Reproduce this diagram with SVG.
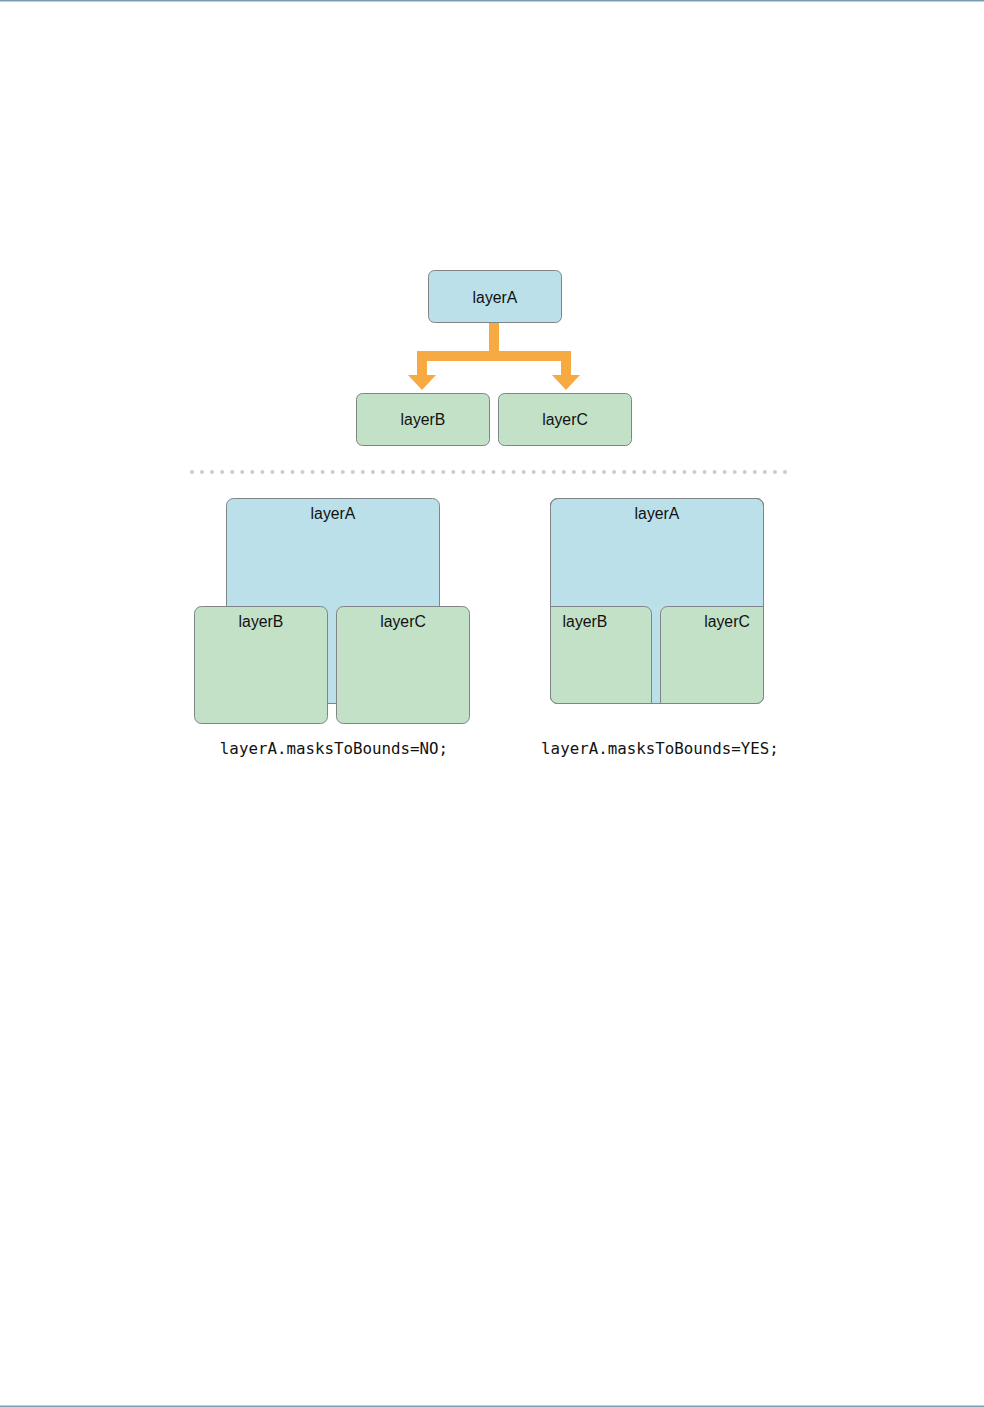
<svg xmlns="http://www.w3.org/2000/svg" width="984" height="1407" viewBox="0 0 984 1407">
<style>
.blue{fill:#bbe0ea;stroke:#7f8486;stroke-width:1}
.green{fill:#c3e1c7;stroke:#7f8486;stroke-width:1}
.lbl{font-family:"Liberation Sans",Arial,sans-serif;font-size:15.8px;fill:#111;text-anchor:middle}
.code{font-family:"DejaVu Sans Mono","Liberation Mono",monospace;font-size:15.8px;fill:#111;text-anchor:middle}
.arrow{fill:#f8aa42}
</style>
<defs>
<clipPath id="clipA"><rect x="550.5" y="498.5" width="213" height="205" rx="7"/></clipPath>
</defs>
<rect x="0" y="0" width="984" height="1.5" fill="#78a0b0"/>
<rect x="0" y="1405.5" width="984" height="1.5" fill="#78a0b0"/>

<g id="connectors">
<path class="arrow" d="M489,323 H499 V351 H571 V375 H580 L566,390 L552,375 H561 V361 H427 V375 H436 L422,390 L408,375 H417 V351 H489 Z"/>
</g>

<g id="treeA"><rect class="blue" x="428.5" y="270.5" width="133" height="52" rx="6"/><text class="lbl" x="495" y="303">layerA</text></g>
<g id="treeB"><rect class="green" x="356.5" y="393.5" width="133" height="52" rx="6"/><text class="lbl" x="423" y="425">layerB</text></g>
<g id="treeC"><rect class="green" x="498.5" y="393.5" width="133" height="52" rx="6"/><text class="lbl" x="565" y="425">layerC</text></g>

<g id="separator" fill="#cccccc" transform="translate(192 0) scale(1.005 1) translate(-192 0)">
<circle cx="192" cy="472" r="2"/><circle cx="202" cy="472" r="2"/><circle cx="212" cy="472" r="2"/><circle cx="222" cy="472" r="2"/><circle cx="232" cy="472" r="2"/><circle cx="242" cy="472" r="2"/><circle cx="252" cy="472" r="2"/><circle cx="262" cy="472" r="2"/><circle cx="272" cy="472" r="2"/><circle cx="282" cy="472" r="2"/>
<circle cx="292" cy="472" r="2"/><circle cx="302" cy="472" r="2"/><circle cx="312" cy="472" r="2"/><circle cx="322" cy="472" r="2"/><circle cx="332" cy="472" r="2"/><circle cx="342" cy="472" r="2"/><circle cx="352" cy="472" r="2"/><circle cx="362" cy="472" r="2"/><circle cx="372" cy="472" r="2"/><circle cx="382" cy="472" r="2"/>
<circle cx="392" cy="472" r="2"/><circle cx="402" cy="472" r="2"/><circle cx="412" cy="472" r="2"/><circle cx="422" cy="472" r="2"/><circle cx="432" cy="472" r="2"/><circle cx="442" cy="472" r="2"/><circle cx="452" cy="472" r="2"/><circle cx="462" cy="472" r="2"/><circle cx="472" cy="472" r="2"/><circle cx="482" cy="472" r="2"/>
<circle cx="492" cy="472" r="2"/><circle cx="502" cy="472" r="2"/><circle cx="512" cy="472" r="2"/><circle cx="522" cy="472" r="2"/><circle cx="532" cy="472" r="2"/><circle cx="542" cy="472" r="2"/><circle cx="552" cy="472" r="2"/><circle cx="562" cy="472" r="2"/><circle cx="572" cy="472" r="2"/><circle cx="582" cy="472" r="2"/>
<circle cx="592" cy="472" r="2"/><circle cx="602" cy="472" r="2"/><circle cx="612" cy="472" r="2"/><circle cx="622" cy="472" r="2"/><circle cx="632" cy="472" r="2"/><circle cx="642" cy="472" r="2"/><circle cx="652" cy="472" r="2"/><circle cx="662" cy="472" r="2"/><circle cx="672" cy="472" r="2"/><circle cx="682" cy="472" r="2"/>
<circle cx="692" cy="472" r="2"/><circle cx="702" cy="472" r="2"/><circle cx="712" cy="472" r="2"/><circle cx="722" cy="472" r="2"/><circle cx="732" cy="472" r="2"/><circle cx="742" cy="472" r="2"/><circle cx="752" cy="472" r="2"/><circle cx="762" cy="472" r="2"/><circle cx="772" cy="472" r="2"/><circle cx="782" cy="472" r="2"/>
</g>

<g id="noMaskA"><rect class="blue" x="226.5" y="498.5" width="213" height="205" rx="7"/><text class="lbl" x="333" y="519">layerA</text></g>
<g id="noMaskB"><rect class="green" x="194.5" y="606.5" width="133" height="117" rx="7"/><text class="lbl" x="261" y="627">layerB</text></g>
<g id="noMaskC"><rect class="green" x="336.5" y="606.5" width="133" height="117" rx="7"/><text class="lbl" x="403" y="627">layerC</text></g>
<text class="code" x="334" y="754">layerA.masksToBounds=NO;</text>

<g id="maskA">
<rect class="blue" x="550.5" y="498.5" width="213" height="205" rx="7"/>
<text class="lbl" x="657" y="519">layerA</text>
<g clip-path="url(#clipA)">
<g id="maskB"><rect class="green" x="518.5" y="606.5" width="133" height="117" rx="7"/><text class="lbl" x="585" y="627">layerB</text></g>
<g id="maskC"><rect class="green" x="660.5" y="606.5" width="133" height="117" rx="7"/><text class="lbl" x="727" y="627">layerC</text></g>
</g>
<rect x="550.5" y="498.5" width="213" height="205" rx="7" fill="none" stroke="#7f8486"/>
</g>
<text class="code" x="660" y="754">layerA.masksToBounds=YES;</text>
</svg>
